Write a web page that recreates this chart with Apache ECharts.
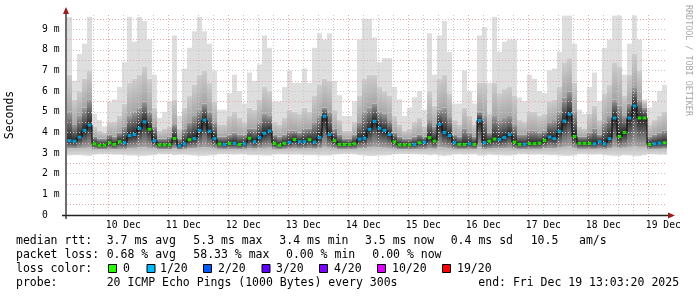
<!DOCTYPE html>
<html><head><meta charset="utf-8">
<script src="https://cdn.jsdelivr.net/npm/echarts@6/dist/echarts.min.js"></script>
<style>html,body{margin:0;padding:0;background:#fff}#c{width:697px;height:297px}</style>
</head><body><div id="c"></div>
<script>
// ---- data ----
const dayLabels = ['10 Dec','11 Dec','12 Dec','13 Dec','14 Dec','15 Dec','16 Dec','17 Dec','18 Dec','19 Dec'];
const yTickValues = [0,1,2,3,4,5,6,7,8,9];
const yTickLabels = ['0','1 m','2 m','3 m','4 m','5 m','6 m','7 m','8 m','9 m'];

// median rtt per 2-hour column (ms)
const median = [3.6,3.57,3.77,4.1,4.36,3.45,3.38,3.38,3.5,3.42,
 3.55,3.5,3.85,3.9,4.2,4.51,4.15,3.6,3.4,3.4,
 3.4,3.71,3.35,3.45,3.65,3.7,4.1,4.6,4.06,3.7,
 3.44,3.42,3.47,3.47,3.42,3.45,3.72,3.55,3.75,3.96,
 4.07,3.47,3.38,3.47,3.52,3.66,3.55,3.55,3.65,3.53,
 3.76,4.78,3.9,3.6,3.42,3.42,3.42,3.45,3.68,3.72,
 4.15,4.54,4.2,4.1,3.9,3.55,3.4,3.4,3.4,3.42,
 3.5,3.52,3.75,3.58,4.39,4.0,3.85,3.5,3.42,3.42,
 3.45,3.42,4.58,3.5,3.57,3.68,3.66,3.75,3.9,3.53,
 3.42,3.43,3.46,3.46,3.48,3.62,3.78,3.7,4.05,4.55,
 4.88,3.8,3.47,3.47,3.47,3.45,3.55,3.45,3.7,4.7,
 3.8,4.0,4.7,5.28,4.7,4.7,3.42,3.45,3.48,3.5];
// loss color index per column (0 = 0 loss, 1 = 1/20 ...)
const lossIdx = [1,1,1,1,1,0,0,0,0,0,
 0,1,1,1,1,1,0,1,0,0,
 0,0,1,1,0,1,1,1,1,1,
 0,1,0,1,0,1,0,1,1,1,
 1,0,0,0,1,0,1,1,0,1,
 1,1,1,0,0,0,0,0,1,1,
 1,1,1,1,1,0,0,0,0,1,
 0,1,0,0,1,1,1,1,0,0,
 1,0,1,1,0,0,1,1,1,0,
 0,1,0,0,0,0,1,1,1,1,
 1,0,0,0,0,1,1,1,1,1,
 0,0,1,1,0,0,0,1,1,0];
// smoke: lowest ping, lower quartile, upper quartile, 90th pct, highest ping (ms)
const pingMin = [2.88,2.9,2.9,2.88,2.86,2.92,2.94,2.94,2.93,2.92,
 2.92,2.9,2.88,2.88,2.86,2.86,2.88,2.9,2.94,2.94,
 2.94,2.9,2.92,2.92,2.9,2.88,2.86,2.86,2.88,2.9,
 2.94,2.94,2.93,2.92,2.93,2.93,2.9,2.9,2.9,2.88,
 2.88,2.92,2.94,2.93,2.92,2.92,2.92,2.9,2.9,2.9,
 2.88,2.88,2.88,2.92,2.94,2.95,2.95,2.94,2.9,2.88,
 2.86,2.86,2.88,2.88,2.9,2.93,2.95,2.95,2.95,2.94,
 2.93,2.93,2.9,2.92,2.88,2.86,2.88,2.93,2.94,2.92,
 2.93,2.94,2.88,2.88,2.92,2.9,2.9,2.88,2.88,2.9,
 2.94,2.94,2.92,2.92,2.93,2.92,2.9,2.9,2.88,2.86,
 2.86,2.88,2.94,2.94,2.92,2.92,2.93,2.9,2.88,2.86,
 2.86,2.9,2.88,2.85,2.86,2.9,2.94,2.93,2.92,2.92];
const pingQ1 = [3.22,3.22,3.24,3.25,3.26,3.2,3.18,3.18,3.2,3.19,
 3.2,3.2,3.24,3.25,3.27,3.28,3.25,3.22,3.18,3.18,
 3.18,3.22,3.17,3.2,3.22,3.24,3.26,3.28,3.26,3.22,
 3.2,3.19,3.2,3.2,3.19,3.2,3.22,3.21,3.23,3.25,
 3.26,3.2,3.18,3.2,3.21,3.22,3.21,3.21,3.22,3.21,
 3.23,3.3,3.26,3.22,3.19,3.19,3.19,3.2,3.23,3.24,
 3.27,3.3,3.27,3.26,3.25,3.21,3.18,3.18,3.18,3.19,
 3.2,3.2,3.22,3.21,3.28,3.26,3.24,3.2,3.19,3.19,
 3.2,3.19,3.28,3.2,3.21,3.22,3.22,3.23,3.25,3.21,
 3.19,3.19,3.2,3.2,3.2,3.22,3.24,3.23,3.26,3.3,
 3.32,3.24,3.2,3.2,3.2,3.2,3.21,3.2,3.23,3.3,
 3.25,3.26,3.3,3.34,3.3,3.3,3.19,3.2,3.2,3.21];
const pingQ3 = [5.0,4.4,4.8,5.2,5.6,3.8,3.7,3.7,3.9,3.8,
 4.0,4.3,4.8,5.0,5.2,5.5,5.0,4.3,3.7,3.7,
 3.8,4.4,3.7,4.2,4.5,4.8,5.1,5.4,5.0,4.5,
 3.8,3.8,3.9,4.0,3.9,3.9,4.2,4.2,4.5,4.9,
 4.8,3.9,3.8,3.9,4.1,4.1,4.0,4.2,4.2,4.5,
 4.8,5.2,5.0,4.2,3.9,3.7,3.7,3.9,4.5,5.0,
 5.2,5.4,5.0,4.9,4.6,4.0,3.8,3.7,3.7,3.8,
 3.9,3.8,4.6,4.3,5.1,5.2,4.7,3.9,3.8,4.2,
 4.0,3.8,5.0,4.8,4.0,4.8,4.6,4.7,4.8,4.4,
 3.9,3.9,4.1,4.1,4.0,4.1,4.5,4.6,5.0,5.7,
 6.0,5.0,3.8,3.8,4.0,4.2,3.9,4.5,4.8,5.6,
 5.3,4.8,5.4,6.2,5.6,5.2,3.8,3.9,4.0,4.1];
const pingP90 = [6.8,5.6,6.0,6.6,7.0,4.3,4.1,4.0,4.5,4.5,
 4.8,5.4,6.4,6.6,6.8,7.2,6.6,5.2,4.1,4.2,
 4.3,5.6,4.2,5.2,5.8,6.3,6.8,7.0,6.4,5.5,
 4.4,4.4,4.8,5.0,4.7,4.5,5.2,5.1,5.6,6.2,
 6.0,4.5,4.4,4.7,5.1,5.0,4.9,5.2,5.0,5.8,
 6.3,6.6,6.5,5.1,4.6,4.1,4.1,4.5,5.8,6.6,
 6.8,6.8,6.2,6.0,5.8,4.8,4.4,4.1,4.2,4.5,
 4.7,4.3,6.0,5.3,6.6,6.8,5.9,4.6,4.4,5.2,
 4.8,4.4,6.4,6.4,4.9,6.4,5.9,6.1,6.2,5.8,
 4.6,4.5,5.0,5.0,4.8,4.9,5.5,5.6,6.2,7.4,
 7.6,6.4,4.3,4.2,4.9,5.3,4.6,5.9,6.3,7.4,
 7.2,5.8,6.8,7.8,7.0,5.5,4.4,4.6,4.8,5.0];
const pingMax = [9.6,6.5,7.8,8.3,9.6,4.9,4.6,4.3,5.5,5.6,
 6.2,7.4,9.6,8.4,9.6,9.4,8.5,6.8,4.7,5.0,
 5.5,8.7,4.8,7.1,8.1,8.9,9.6,8.9,8.3,7.0,
 5.1,5.1,5.9,6.8,6.0,5.4,6.9,6.5,7.3,8.7,
 8.1,5.5,5.5,6.2,7.0,6.4,6.4,7.1,6.4,8.1,
 8.8,8.5,8.8,6.5,5.8,4.8,4.8,5.5,8.5,9.5,
 9.5,8.6,7.4,7.6,7.6,6.2,5.6,4.8,5.2,5.7,
 6.0,5.1,8.8,6.8,8.7,9.4,7.9,5.4,5.4,7.0,
 6.0,5.4,8.7,9.1,6.4,9.6,7.9,8.4,8.5,8.5,
 5.7,5.5,6.8,6.6,6.0,5.9,7.0,7.1,7.9,9.66,
 9.66,8.3,5.1,4.9,6.2,6.9,5.5,8.1,8.5,9.66,
 9.66,6.8,8.3,9.66,8.5,5.6,5.2,5.5,6.0,6.3];

const lossColors = ['#26ff00','#00b8ff','#0059ff','#5e00ff','#7e00ff','#dd00ff','#ff0000'];
const lossLabels = ['0','1/20','2/20','3/20','4/20','10/20','19/20'];
const rttStats = ['median rtt:','3.7 ms avg','5.3 ms max','3.4 ms min','3.5 ms now','0.4 ms sd','10.5','am/s'];
const lossStats = ['packet loss:','0.68 % avg','58.33 % max','0.00 % min','0.00 % now'];
const probeText = ['probe:','20 ICMP Echo Pings (1000 Bytes) every 300s','end: Fri Dec 19 13:03:20 2025'];

// ---- layout / scale constants ----
const STEP_H = 2;            // hours per column
const SPAN_H = 240;          // 10 days
const FIRST_MIDNIGHT = 10.52; // hours from start to 10 Dec 00:00
const Y_MAX = 9.69;
const MONO = '"DejaVu Sans Mono", monospace';

const gridHours = [];
for (let h = FIRST_MIDNIGHT - 6; h < SPAN_H; h += 6) gridHours.push(+h.toFixed(2));
const noonHours = dayLabels.map((_, k) => +(FIRST_MIDNIGHT + 12 + 24 * k).toFixed(2));

const smokeData = median.map((m, i) => [i * STEP_H, pingMin[i], pingQ1[i], m, pingQ3[i], pingP90[i], pingMax[i]]);
const medLine = median.map((m, i) => [i * STEP_H + STEP_H / 2, m]);
const medDots = median.map((m, i) => ({ value: [i * STEP_H + STEP_H / 2, m], itemStyle: { color: lossColors[lossIdx[i]] } }));

const chart = echarts.init(document.getElementById('c'), null, { renderer: 'canvas', width: 697, height: 297 });

function G(c0, c1) {
  return new echarts.graphic.LinearGradient(0, 0, 0, 1, [{ offset: 0, color: c0 }, { offset: 1, color: c1 }]);
}

const GRAY = '#c8c8c8', RED = '#e6a8a8';
const graphics = [];
const lf = { fontFamily: MONO, fontSize: 11.5, fill: '#000', verticalAlign: 'middle', align: 'left' };
function T(x, y, s, extra) { graphics.push({ type: 'text', x: x, y: y, silent: true, style: Object.assign({ text: s }, lf, extra || {}) }); }

const rttX = [16, 106.7, 193.3, 279.3, 365, 450.7, 530.7, 579];
rttStats.forEach((s, k) => T(rttX[k], 241.5, s));
const lossX = [16, 106.7, 193.3, 286, 372.3];
lossStats.forEach((s, k) => T(lossX[k], 255.5, s));
T(16, 269, 'loss color:');
const boxX = [108, 146.5, 203, 261.5, 319, 377, 442];
const labX = [123, 160, 218, 276, 334, 392, 457];
lossLabels.forEach((s, k) => {
  graphics.push({ type: 'rect', silent: true, shape: { x: boxX[k] + 0.5, y: 264.5, width: 8, height: 8 }, style: { fill: lossColors[k], stroke: '#000', lineWidth: 1 } });
  T(labX[k], 269, s);
});
const probeX = [16, 106.7, 478.3];
probeText.forEach((s, k) => T(probeX[k], 283, s));

// side texts
graphics.push({ type: 'text', x: 10, y: 115, rotation: Math.PI / 2, silent: true,
  style: { text: 'Seconds', fontFamily: MONO, fontSize: 11.5, fill: '#000', align: 'center', verticalAlign: 'middle' } });
graphics.push({ type: 'text', x: 688, y: 5, rotation: -Math.PI / 2, silent: true,
  style: { text: 'RRDTOOL / TOBI OETIKER', fontFamily: MONO, fontSize: 8.4, fill: '#a8a8a8', align: 'left', verticalAlign: 'middle' } });
// axis lines and arrows
graphics.push({ type: 'line', silent: true, z: 50, shape: { x1: 66, y1: 219, x2: 66, y2: 12 }, style: { stroke: '#6e6e6e', lineWidth: 2 } });
graphics.push({ type: 'line', silent: true, z: 50, shape: { x1: 62, y1: 215.5, x2: 670, y2: 215.5 }, style: { stroke: '#222', lineWidth: 1.5 } });
graphics.push({ type: 'polygon', silent: true, z: 51, shape: { points: [[63, 14], [69, 14], [66, 7]] }, style: { fill: '#9a1c1c' } });
graphics.push({ type: 'polygon', silent: true, z: 51, shape: { points: [[668, 212.5], [668, 218.5], [675, 215.5]] }, style: { fill: '#9a1c1c' } });

const option = {
  backgroundColor: '#ffffff',
  animation: false,
  grid: { left: 67, top: 15, width: 600, height: 200, containLabel: false, outerBoundsMode: 'none' },
  xAxis: [{
    type: 'value', min: 0, max: SPAN_H, z: 10,
    axisLine: { show: false },
    axisTick: { show: false, customValues: gridHours },
    splitLine: { show: true, showMinLine: false, showMaxLine: false, lineStyle: { type: [1, 2], width: 1, color: [GRAY, RED, GRAY, GRAY] } },
    axisLabel: {
      customValues: noonHours, margin: 5, color: '#000', fontFamily: MONO, fontSize: 9.7,
      formatter: function (v) { const k = Math.round((v - FIRST_MIDNIGHT - 12) / 24); return dayLabels[k] || ''; }
    }
  }],
  yAxis: [{
    type: 'value', min: 0, max: Y_MAX, interval: 0.5, z: 10,
    axisLine: { show: false }, axisTick: { show: false },
    splitLine: { show: true, showMinLine: false, showMaxLine: false, lineStyle: { type: [1, 2], width: 1, color: [RED, GRAY] } },
    axisLabel: {
      customValues: yTickValues, align: 'left', margin: 25, color: '#000', fontFamily: MONO, fontSize: 9.7,
      formatter: function (v) { const k = yTickValues.indexOf(Math.round(v)); return k >= 0 ? yTickLabels[k] : ''; }
    }
  }],
  series: [
    {
      type: 'custom', name: 'smoke', data: smokeData, z: 2, silent: true,
      encode: { x: 0, y: 6 },
      renderItem: function (params, api) {
        const h = api.value(0);
        const xa = Math.round(api.coord([h, 0])[0]);
        const xb = Math.round(api.coord([h + STEP_H, 0])[0]);
        const Y = (k) => api.coord([h, api.value(k)])[1];
        const yMin = Y(1), yQ1 = Y(2), yMed = Y(3), yQ3 = Y(4), yHi = Y(5), yMax = Y(6);
        const w = xb - xa;
        const R = (yb, yt, fill) => ({ type: 'rect', shape: { x: xa, y: yt, width: w, height: Math.max(0, yb - yt) }, style: { fill: fill } });
        return { type: 'group', children: [
          R(yMin, yQ1, G('#bcbcbc', '#dedede')),
          R(yQ1, yMed, G('#262626', '#a4a4a4')),
          R(yMed, yQ3, G('#9c9c9c', '#262626')),
          R(yQ3, yHi, G('#cdcdcd', '#a6a6a6')),
          R(yHi, yMax, '#dedede')
        ] };
      }
    },
    {
      type: 'line', name: 'median', data: medLine, step: 'middle', showSymbol: false, z: 20, silent: true,
      lineStyle: { color: '#000', width: 1 }
    },
    {
      type: 'scatter', name: 'loss', data: medDots, symbol: 'rect', symbolSize: [4, 3], z: 21, silent: true
    }
  ],
  graphic: graphics
};
chart.setOption(option);
</script>
</body></html>
